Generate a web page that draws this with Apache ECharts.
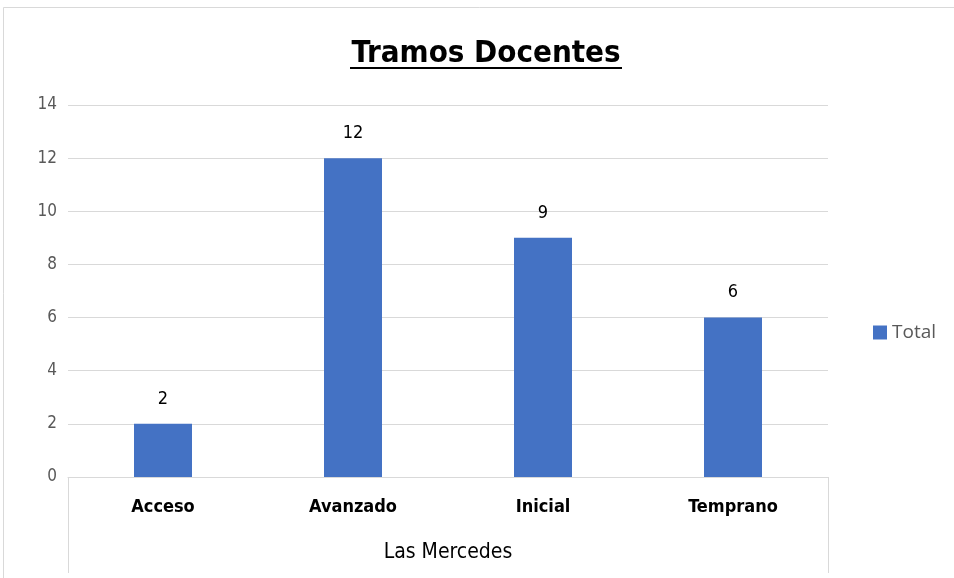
<!DOCTYPE html>
<html>
<head>
<meta charset="utf-8">
<script src="https://cdn.jsdelivr.net/npm/echarts@6/dist/echarts.min.js"></script>
<style>
  html, body { margin: 0; padding: 0; background: #fff; }
  #chart { width: 954px; height: 578px; }
</style>
</head>
<body>
<div id="chart"></div>
<script>
  // datos
  const categorias = ['Acceso', 'Avanzado', 'Inicial', 'Temprano']
  const totales = [2, 12, 9, 6]
  const grupo = ['Las Mercedes']
  const serieNombre = 'Total'

  const fuente = '"DejaVu Sans Condensed", "Liberation Sans Narrow", "Liberation Sans", sans-serif'

  let chart = echarts.init(document.getElementById('chart'))
  let option = {
    backgroundColor: '#fff',
    textStyle: { fontFamily: fuente },
    title: {
      text: 'Tramos Docentes',
      left: 481,
      textAlign: 'center',
      top: 33,
      textStyle: { fontSize: 31, fontWeight: 'bold', color: '#000', fontFamily: fuente }
    },
    legend: {
      data: [serieNombre],
      left: 868,
      top: 318,
      itemWidth: 14,
      itemHeight: 14,
      itemGap: 6,
      icon: 'rect',
      textStyle: { fontSize: 19, color: '#595959', fontFamily: '"Open Sans", "DejaVu Sans", sans-serif' }
    },
    grid: { left: 68, right: 126, top: 105, bottom: 101, containLabel: false },
    xAxis: [
      {
        type: 'category',
        data: categorias,
        axisLine: { lineStyle: { color: '#d9d9d9', width: 1 } },
        axisTick: { show: false },
        axisLabel: { color: '#000', fontSize: 18, fontWeight: 'bold', margin: 21 }
      },
      {
        type: 'category',
        data: grupo,
        position: 'bottom',
        axisLine: { show: false },
        axisTick: { show: true, length: 96, lineStyle: { color: '#d9d9d9', width: 1 } },
        axisLabel: { color: '#000', fontSize: 21, fontWeight: 500, margin: 65 }
      }
    ],
    yAxis: {
      type: 'value',
      min: 0,
      max: 14,
      interval: 2,
      axisLine: { show: false },
      axisTick: { show: false },
      axisLabel: { color: '#595959', fontSize: 17, margin: 11 },
      splitLine: { lineStyle: { color: '#d9d9d9', width: 1 } }
    },
    series: [{
      name: serieNombre,
      type: 'bar',
      xAxisIndex: 0,
      data: totales,
      barWidth: 58,
      itemStyle: { color: '#4472c4' },
      label: { show: true, position: 'top', distance: 16, color: '#000', fontSize: 18 }
    }],
    graphic: [
      {
        type: 'rect',
        shape: { x: 3.5, y: 7.5, width: 1000, height: 700 },
        style: { fill: 'none', stroke: '#d9d9d9', lineWidth: 1 },
        silent: true
      },
      {
        type: 'rect',
        shape: { x: 350, y: 67, width: 272, height: 2 },
        style: { fill: '#000' },
        silent: true
      }
    ]
  }
  chart.setOption(option)
  window.addEventListener('resize', function () {
    chart.resize()
  })
</script>
</body>
</html>
